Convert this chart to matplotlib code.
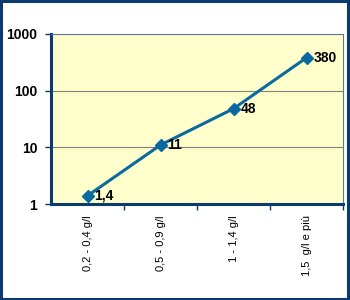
import matplotlib.pyplot as plt
from matplotlib.patches import Rectangle

# categories and values
categories = ["0,2 - 0,4 g/l", "0,5 - 0,9 g/l", "1 - 1,4 g/l", "1,5  g/l e più"]
values = [1.4, 11, 48, 380]
value_labels = ["1,4", "11", "48", "380"]
y_ticks = [1, 10, 100, 1000]

plt.rcParams["font.family"] = ["Liberation Sans", "DejaVu Sans"]

fig = plt.figure(figsize=(3.5, 3.0), dpi=100)
fig.patch.set_facecolor("white")
fig.patches.append(Rectangle((0.003, 0.004), 0.992, 0.992, transform=fig.transFigure,
                             fill=False, edgecolor="#0a3a6e", linewidth=2.2))

ax = fig.add_axes([0.146, 0.32, 0.834, 0.567])
ax.set_facecolor("#ffffcc")

x = list(range(len(categories)))
ax.plot(x, values, color="#0a6aa0", linewidth=2.2, marker="D", markersize=6,
        markerfacecolor="#0a6aa0", markeredgecolor="#0a6aa0", zorder=3)
for xi, v, lab in zip(x, values, value_labels):
    ax.annotate(lab, (xi, v), xytext=(5, 0), textcoords="offset points",
                va="center", ha="left", fontsize=10, fontweight="bold", color="black")

ax.set_yscale("log")
ax.set_ylim(1, 1000)
ax.set_xlim(-0.5, len(categories) - 0.5)
ax.set_yticks(y_ticks)
ax.set_yticklabels([str(t) for t in y_ticks], fontsize=10, fontweight="bold")
ax.yaxis.set_minor_locator(plt.NullLocator())
ax.grid(axis="y", color="#808080", linewidth=0.8)
ax.set_axisbelow(True)

ax.set_xticks(x)
ax.set_xticklabels(categories, rotation=90, fontsize=8, color="black")
ax.tick_params(axis="x", length=0, pad=8)
ax.set_xticks([i + 0.5 for i in x], minor=True)
ax.tick_params(axis="x", which="minor", length=4, color="#0a3a6e", width=1)
ax.tick_params(axis="y", length=4, color="#0a3a6e", width=1, pad=6)

for side in ["left", "bottom"]:
    ax.spines[side].set_color("#0a3a6e")
    ax.spines[side].set_linewidth(2.2)
for side in ["top", "right"]:
    ax.spines[side].set_color("#5a7a9a")
    ax.spines[side].set_linewidth(0.8)

fig.savefig("out.png", dpi=100)
